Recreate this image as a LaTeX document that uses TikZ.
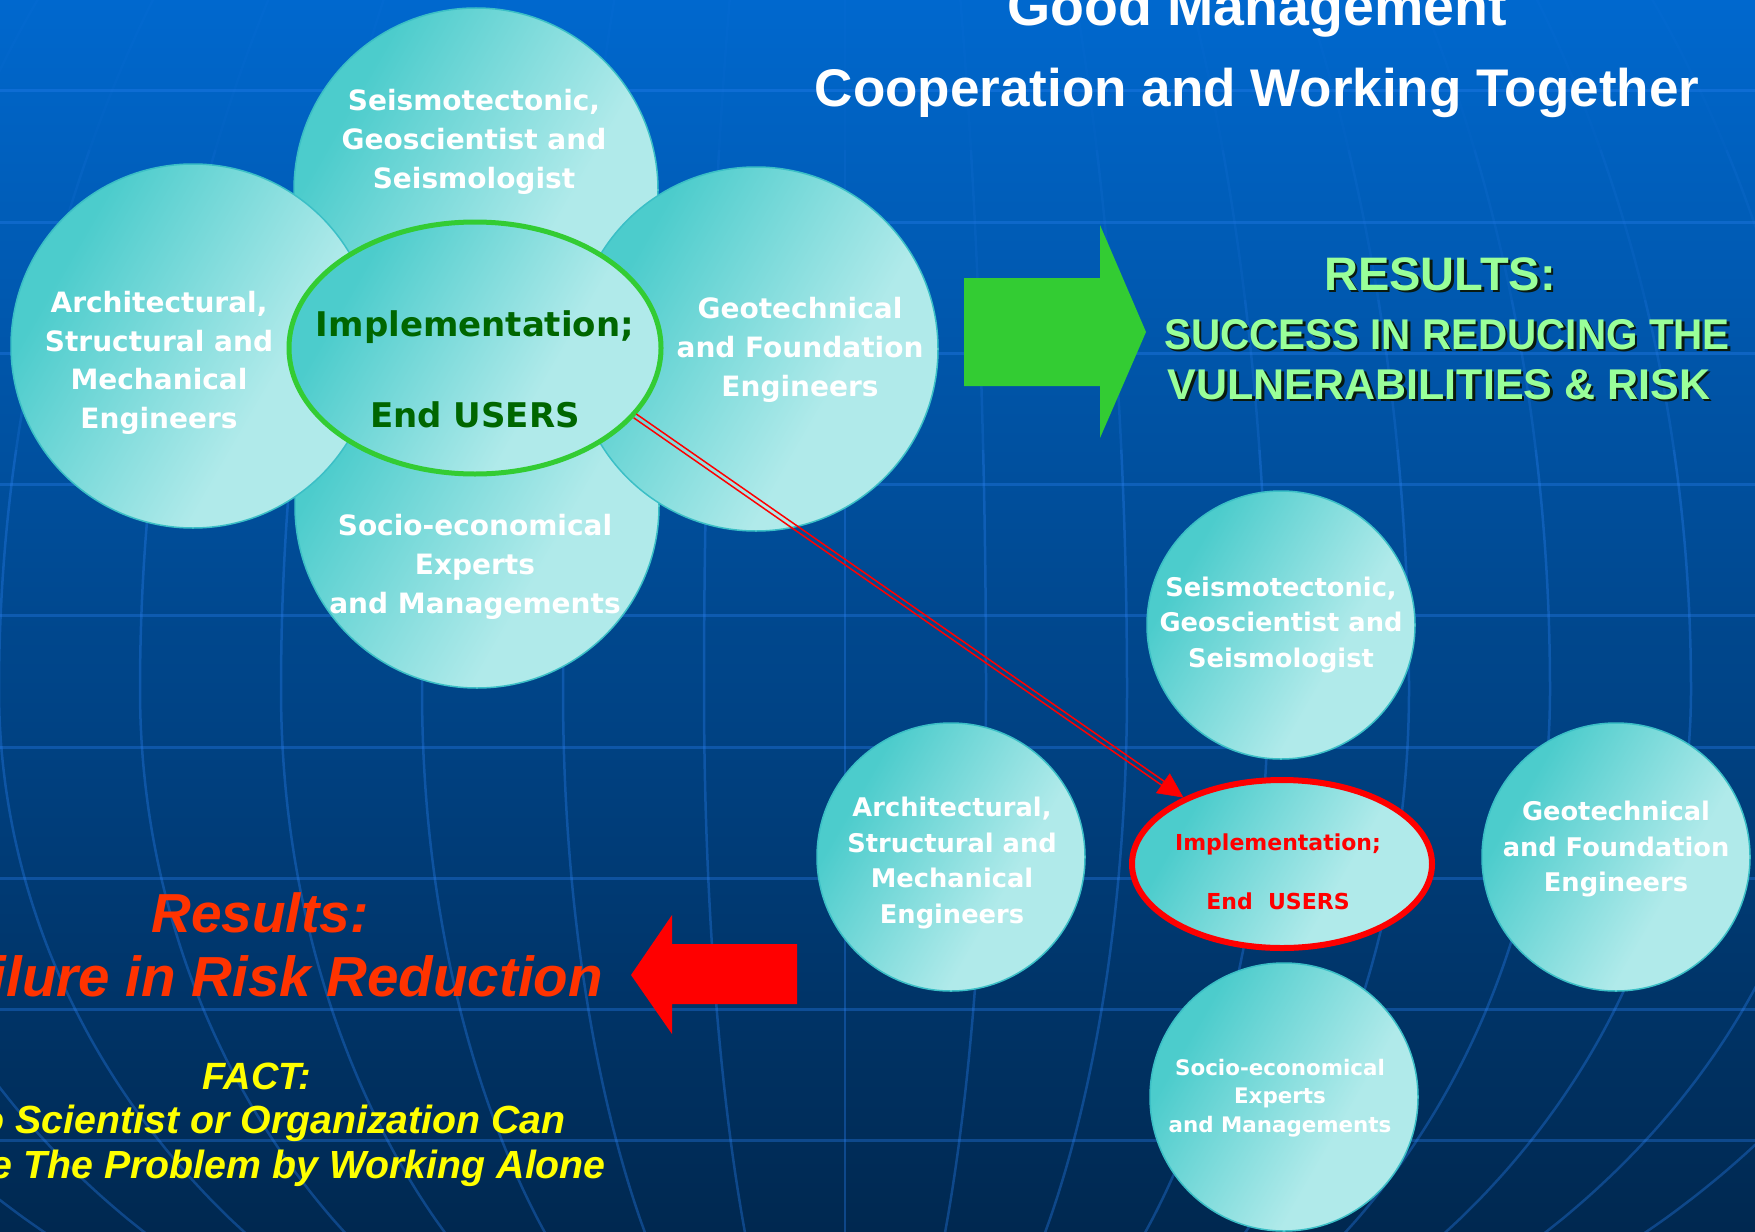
\documentclass[tikz,border=0pt]{standalone}
\usepackage{fontspec}
\usepackage{graphicx}
\setmainfont{Liberation Sans}
\newfontfamily\circfont{DejaVu Sans}
\usetikzlibrary{shapes.geometric, arrows.meta, calc}

\definecolor{bgTop}{HTML}{0068CE}
\definecolor{bgBot}{HTML}{002850}
\definecolor{gridC}{HTML}{2A80F0}
\definecolor{bubA}{HTML}{4CCCCC}
\definecolor{bubB}{HTML}{B0EAEA}
\definecolor{bubEdge}{HTML}{3BBFC6}
\definecolor{ringGreen}{HTML}{33CC33}
\definecolor{darkGreen}{HTML}{006600}
\definecolor{resGreen}{HTML}{99FF99}
\definecolor{shadowC}{HTML}{0A1A10}
\definecolor{arrowGreen}{HTML}{33CC33}
\definecolor{failRed}{HTML}{FF3300}
\definecolor{factYellow}{HTML}{FFFF00}

\pgfdeclarehorizontalshading{bubbleshade}{100bp}{color(0bp)=(bubA); color(29bp)=(bubA); color(62bp)=(bubB); color(100bp)=(bubB)}

\begin{document}
\begin{tikzpicture}[x=1pt, y=-1pt,
  declare function={gfun(\t)=(\t<690)*sqrt(1-((\t-690)/1200)*((\t-690)/1200))+(\t>=690)*sqrt(1-((\t-690)/770)*((\t-690)/770));},
  hline/.style={draw=gridC, draw opacity=0.35, line width=3pt},
  merid/.style={draw=gridC, draw opacity=#1, line width=2.5pt},
  bubble/.style={circle, draw=bubEdge, line width=1.5pt, shade, shading=bubbleshade, shading angle=-30, minimum size=#1, inner sep=0pt},
  ellbubble/.style={ellipse, shade, shading=bubbleshade, shading angle=-30, inner sep=0pt},
  ctext/.style={text=white, align=center, inner sep=0pt, font=\circfont\bfseries\fontsize{28}{38.7}\selectfont},
  ctextm/.style={text=white, align=center, inner sep=0pt, font=\circfont\bfseries\fontsize{25.7}{35.5}\selectfont},
  ctexts/.style={text=white, align=center, inner sep=0pt, font=\circfont\bfseries\fontsize{21.4}{28.5}\selectfont},
  title/.style={text=white, inner sep=0pt, anchor=base, font=\bfseries\fontsize{#1}{#1}\selectfont},
  restext/.style={inner sep=0pt, anchor=base, font=\bfseries\fontsize{#1}{#1}\selectfont},
  italtext/.style={inner sep=0pt, font=\bfseries\itshape\fontsize{#1}{#1}\selectfont},
  fatgreen/.style={fill=arrowGreen},
  fatred/.style={fill=red},
  linkline/.style={draw=red, line width=1.5pt, shorten >=20pt}
]
\useasboundingbox (0,0) rectangle (1755,1231);
\clip (0,0) rectangle (1755,1231);

% background
\shade[top color=bgTop, bottom color=bgBot] (0,0) rectangle (1755,1231);
\foreach \yy in {90,222,353,484,615,747,878,1009,1140}
  \draw[hline] (0,\yy) -- (1755,\yy);
\foreach \i in {-8,...,8}{
  \draw[merid=0.06] plot[domain=-10:150, samples=8, smooth, variable=\t] ({845+141*\i*gfun(\t)},\t);
  \draw[merid=0.12] plot[domain=150:300, samples=8, smooth, variable=\t] ({845+141*\i*gfun(\t)},\t);
  \draw[merid=0.22] plot[domain=300:450, samples=8, smooth, variable=\t] ({845+141*\i*gfun(\t)},\t);
  \draw[merid=0.35] plot[domain=450:1240, samples=36, smooth, variable=\t] ({845+141*\i*gfun(\t)},\t);
}

% titles
\node[title=55.5] (tgood) at (1257,26) {Good Management};
\node[title=53] (tcoop) at (1257,106) {Cooperation and Working Together};

% top cluster
\node[bubble=364pt] (t1) at (476,190) {};
\node[bubble=364pt] (b1) at (477,506) {};
\node[bubble=364pt] (l1) at (193,346) {};
\node[bubble=364pt] (r1) at (756,349) {};
\node[ellbubble, draw=ringGreen, line width=5pt, minimum width=372pt, minimum height=252pt] (e1) at (475,348) {};

\node[ctext] (t1txt) at (474,142) {Seismotectonic,\\Geoscientist and\\Seismologist};
\node[ctext] (l1txt) at (159,363) {Architectural,\\Structural and\\Mechanical\\Engineers};
\node[ctext] (r1txt) at (800,350) {Geotechnical\\and Foundation\\Engineers};
\node[ctext] (b1txt) at (475,567) {Socio-economical\\Experts\\and Managements};
\node[text=darkGreen, inner sep=0pt, font=\circfont\bfseries\fontsize{34}{40}\selectfont] (e1a) at (475,327) {Implementation;};
\node[text=darkGreen, inner sep=0pt, font=\circfont\bfseries\fontsize{34}{40}\selectfont] (e1b) at (475,415) {End USERS};

% bottom cluster
\node[bubble=268pt] (t2) at (1281,625) {};
\node[bubble=268pt] (l2) at (951,857) {};
\node[bubble=268pt] (r2) at (1616,857) {};
\node[bubble=268pt] (b2) at (1284,1097) {};
\node[ellbubble, draw=red, line width=6pt, minimum width=300pt, minimum height=168pt] (e2) at (1282,864) {};

\node[ctextm] (t2txt) at (1281,625) {Seismotectonic,\\Geoscientist and\\Seismologist};
\node[ctextm] (l2txt) at (952,863) {Architectural,\\Structural and\\Mechanical\\Engineers};
\node[ctextm] (r2txt) at (1616,849) {Geotechnical\\and Foundation\\Engineers};
\node[ctexts] (b2txt) at (1280,1098) {Socio-economical\\Experts\\and Managements};
\node[text=red, inner sep=0pt, font=\circfont\bfseries\fontsize{22}{26}\selectfont] (e2a) at (1278,844) {Implementation;};
\node[text=red, inner sep=0pt, font=\circfont\bfseries\fontsize{22}{26}\selectfont] (e2b) at (1278,901) {End\ \ USERS};

% double red connector
\draw[linkline, transform canvas={shift={(1.31pt,1.89pt)}}] (e1.-23) -- (e2.146);
\draw[linkline, transform canvas={shift={(-1.31pt,-1.89pt)}}] (e1.-23) -- (e2.146);
\draw[red, line width=0.5pt, -{Triangle[length=25pt, width=24pt]}] ($(e2.146)!26pt!(e1.-23)$) -- (e2.146);

% green fat arrow and results
\fill[fatgreen] (964,278) -- (1100,278) -- (1100,225) -- (1146,332) -- (1100,438) -- (1100,386) -- (964,386) -- cycle;
\node[restext=47, text=shadowC] (res0s) at (1442.5,292.5) {RESULTS:};
\node[restext=47, text=resGreen] (res0) at (1440,290) {RESULTS:};
\node[restext=43, text=shadowC] (res1s) at (1449.5,351.5) {\scalebox{0.94}[1]{SUCCESS IN REDUCING THE}};
\node[restext=43, text=resGreen] (res1) at (1447,349) {\scalebox{0.94}[1]{SUCCESS IN REDUCING THE}};
\node[restext=43, text=shadowC] (res2s) at (1441.5,401.5) {VULNERABILITIES \& RISK};
\node[restext=43, text=resGreen] (res2) at (1439,399) {VULNERABILITIES \& RISK};

% red fat arrow and failure texts
\fill[fatred] (797,944) -- (672,944) -- (672,915) -- (631,975) -- (672,1034) -- (672,1004) -- (797,1004) -- cycle;
\node[italtext=55, text=failRed, anchor=base] (fres) at (260,932) {Results:};
\node[italtext=56.5, text=failRed, anchor=base east] (ffail) at (603,996) {Failure in Risk Reduction};
\node[italtext=38, text=factYellow, anchor=base] (fact) at (257,1089) {FACT:};
\node[italtext=39.3, text=factYellow, anchor=base east] (fact1) at (566,1133) {No Scientist or Organization Can};
\node[italtext=39.3, text=factYellow, anchor=base east] (fact2) at (606,1178) {Solve The Problem by Working Alone};
\end{tikzpicture}
\end{document}
